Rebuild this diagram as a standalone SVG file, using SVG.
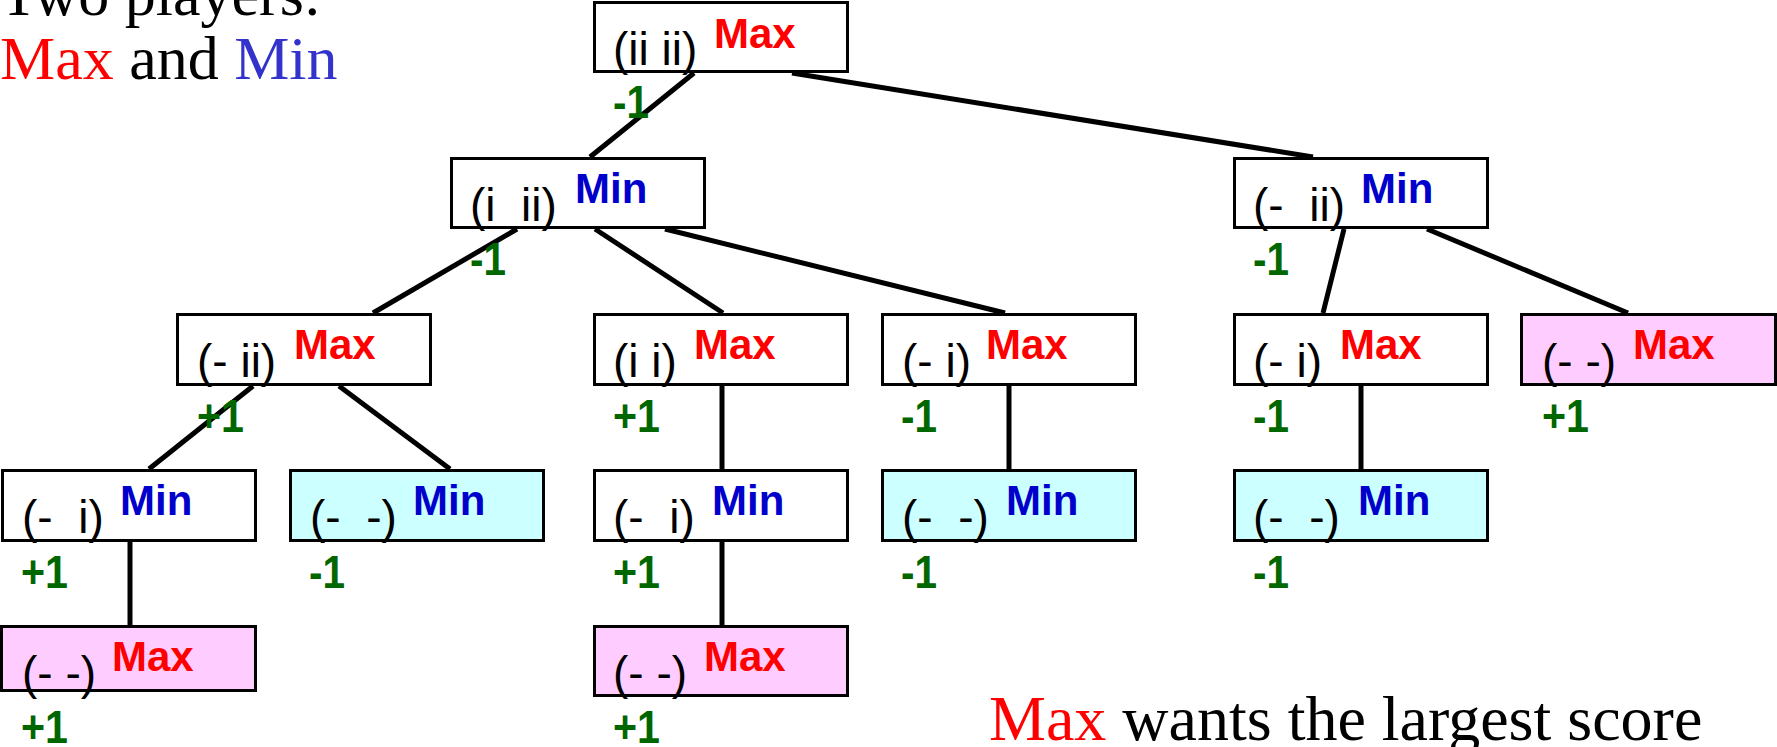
<svg xmlns="http://www.w3.org/2000/svg" width="1777" height="747" viewBox="0 0 1777 747">
<style>
.bx{fill:#ffffff;stroke:#000;stroke-width:3}
.pk{fill:#FFCCFF}
.cy{fill:#CCFFFF}
.st{font-family:"Liberation Sans",Arial,sans-serif;font-size:46px;fill:#000}
.mx{font-family:"Liberation Sans",Arial,sans-serif;font-size:42px;font-weight:bold;fill:#FF0000}
.mn{font-family:"Liberation Sans",Arial,sans-serif;font-size:42px;font-weight:bold;fill:#0000CC}
.sc{font-family:"Liberation Sans",Arial,sans-serif;font-size:47px;font-weight:bold;fill:#006600}
.tt{font-family:"Liberation Serif","Times New Roman",serif;fill:#000}
.edge line{stroke:#000;stroke-width:5}
</style>
<rect width="1777" height="747" fill="#fff"/>
<g id="caption-top" class="tt" font-size="62">
<text x="0" y="15">Two players:</text>
<text x="0" y="79"><tspan fill="#FF0000">Max</tspan> and <tspan fill="#3333CC">Min</tspan></text>
</g>
<g id="caption-bottom" class="tt" font-size="64">
<text x="989" y="740"><tspan fill="#FF0000">Max</tspan> wants the largest score</text>
</g>
<g id="connectors" class="edge">
<line x1="694" y1="73" x2="590" y2="157"/>
<line x1="792" y1="73" x2="1313" y2="157"/>
<line x1="517" y1="229" x2="373" y2="313"/>
<line x1="595" y1="229" x2="723" y2="313"/>
<line x1="665" y1="229" x2="1005" y2="313"/>
<line x1="1344" y1="229" x2="1323" y2="313"/>
<line x1="1427" y1="229" x2="1628" y2="313"/>
<line x1="253" y1="386" x2="149" y2="469"/>
<line x1="339" y1="386" x2="450" y2="469"/>
<line x1="722" y1="386" x2="722" y2="469"/>
<line x1="1009" y1="386" x2="1009" y2="469"/>
<line x1="1361" y1="386" x2="1361" y2="469"/>
<line x1="130" y1="542" x2="130" y2="625"/>
<line x1="722" y1="542" x2="722" y2="625"/>
</g>
<g id="n1">
<rect class="bx" x="594.5" y="2.5" width="253" height="69"/>
<text class="st" x="613" y="65" xml:space="preserve">(ii ii)</text>
<text class="mx" x="714" y="48">Max</text>
<text class="sc" x="613" y="118" textLength="36" lengthAdjust="spacingAndGlyphs">-1</text>
</g>
<g id="n2">
<rect class="bx" x="451.5" y="158.5" width="253" height="69"/>
<text class="st" x="470" y="221" xml:space="preserve">(i  ii)</text>
<text class="mn" x="575" y="203">Min</text>
<text class="sc" x="470" y="275" textLength="36" lengthAdjust="spacingAndGlyphs">-1</text>
</g>
<g id="n3">
<rect class="bx" x="1234.5" y="158.5" width="253" height="69"/>
<text class="st" x="1253" y="221" xml:space="preserve">(-  ii)</text>
<text class="mn" x="1361" y="203">Min</text>
<text class="sc" x="1253" y="275" textLength="36" lengthAdjust="spacingAndGlyphs">-1</text>
</g>
<g id="n4">
<rect class="bx" x="177.5" y="314.5" width="253" height="70"/>
<text class="st" x="197" y="377" xml:space="preserve">(- ii)</text>
<text class="mx" x="294" y="359">Max</text>
<text class="sc" x="197" y="432" textLength="47" lengthAdjust="spacingAndGlyphs">+1</text>
</g>
<g id="n5">
<rect class="bx" x="594.5" y="314.5" width="253" height="70"/>
<text class="st" x="613" y="377" xml:space="preserve">(i i)</text>
<text class="mx" x="694" y="359">Max</text>
<text class="sc" x="613" y="432" textLength="47" lengthAdjust="spacingAndGlyphs">+1</text>
</g>
<g id="n6">
<rect class="bx" x="882.5" y="314.5" width="253" height="70"/>
<text class="st" x="902" y="377" xml:space="preserve">(- i)</text>
<text class="mx" x="986" y="359">Max</text>
<text class="sc" x="901" y="432" textLength="36" lengthAdjust="spacingAndGlyphs">-1</text>
</g>
<g id="n7">
<rect class="bx" x="1234.5" y="314.5" width="253" height="70"/>
<text class="st" x="1253" y="377" xml:space="preserve">(- i)</text>
<text class="mx" x="1340" y="359">Max</text>
<text class="sc" x="1253" y="432" textLength="36" lengthAdjust="spacingAndGlyphs">-1</text>
</g>
<g id="n8">
<rect class="bx pk" x="1521.5" y="314.5" width="254" height="70"/>
<text class="st" x="1542" y="377" xml:space="preserve">(- -)</text>
<text class="mx" x="1633" y="359">Max</text>
<text class="sc" x="1542" y="432" textLength="47" lengthAdjust="spacingAndGlyphs">+1</text>
</g>
<g id="n9">
<rect class="bx" x="2.5" y="470.5" width="253" height="70"/>
<text class="st" x="22" y="533" xml:space="preserve">(-  i)</text>
<text class="mn" x="120" y="515">Min</text>
<text class="sc" x="21" y="588" textLength="47" lengthAdjust="spacingAndGlyphs">+1</text>
</g>
<g id="n10">
<rect class="bx cy" x="290.5" y="470.5" width="253" height="70"/>
<text class="st" x="310" y="533" xml:space="preserve">(-  -)</text>
<text class="mn" x="413" y="515">Min</text>
<text class="sc" x="309" y="588" textLength="36" lengthAdjust="spacingAndGlyphs">-1</text>
</g>
<g id="n11">
<rect class="bx" x="594.5" y="470.5" width="253" height="70"/>
<text class="st" x="613" y="533" xml:space="preserve">(-  i)</text>
<text class="mn" x="712" y="515">Min</text>
<text class="sc" x="613" y="588" textLength="47" lengthAdjust="spacingAndGlyphs">+1</text>
</g>
<g id="n12">
<rect class="bx cy" x="882.5" y="470.5" width="253" height="70"/>
<text class="st" x="902" y="533" xml:space="preserve">(-  -)</text>
<text class="mn" x="1006" y="515">Min</text>
<text class="sc" x="901" y="588" textLength="36" lengthAdjust="spacingAndGlyphs">-1</text>
</g>
<g id="n13">
<rect class="bx cy" x="1234.5" y="470.5" width="253" height="70"/>
<text class="st" x="1253" y="533" xml:space="preserve">(-  -)</text>
<text class="mn" x="1358" y="515">Min</text>
<text class="sc" x="1253" y="588" textLength="36" lengthAdjust="spacingAndGlyphs">-1</text>
</g>
<g id="n14">
<rect class="bx pk" x="1.5" y="626.5" width="254" height="64"/>
<text class="st" x="22" y="689" xml:space="preserve">(- -)</text>
<text class="mx" x="112" y="671">Max</text>
<text class="sc" x="21" y="743" textLength="47" lengthAdjust="spacingAndGlyphs">+1</text>
</g>
<g id="n15">
<rect class="bx pk" x="594.5" y="626.5" width="253" height="69"/>
<text class="st" x="613" y="689" xml:space="preserve">(- -)</text>
<text class="mx" x="704" y="671">Max</text>
<text class="sc" x="613" y="743" textLength="47" lengthAdjust="spacingAndGlyphs">+1</text>
</g>
</svg>
